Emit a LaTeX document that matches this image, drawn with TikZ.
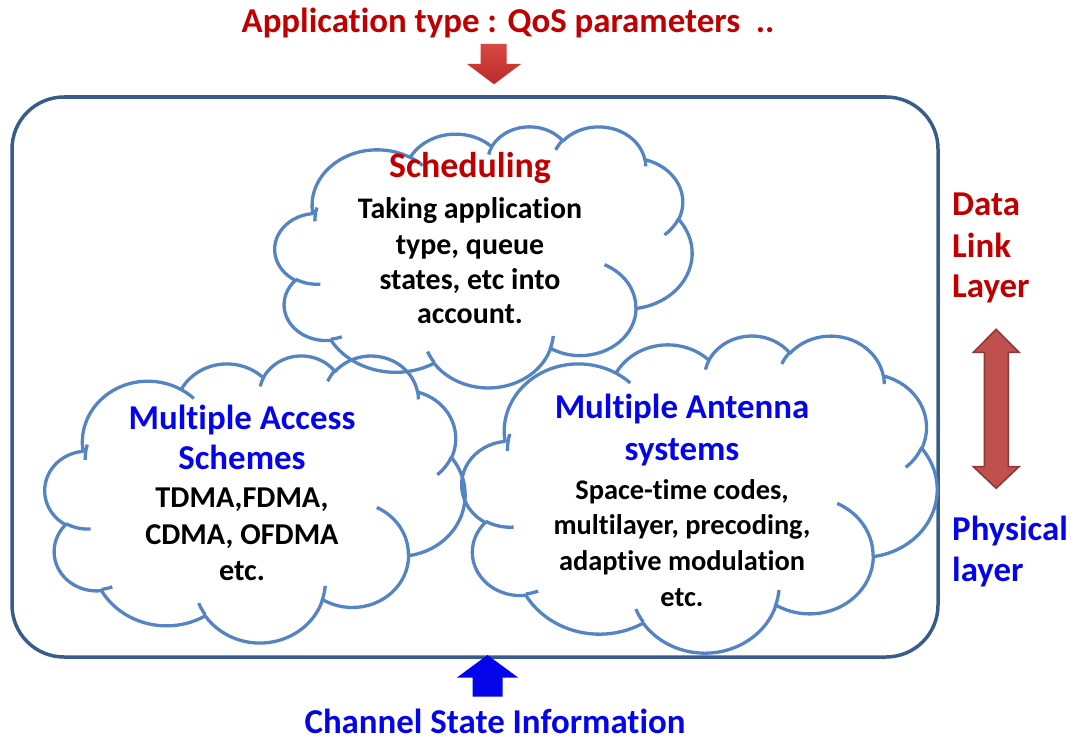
\documentclass[tikz,border=0pt]{standalone}
\usepackage{fontspec}
\setmainfont{Carlito}[Ligatures={NoCommon}]
\definecolor{dred}{RGB}{192,0,0}
\definecolor{tblue}{RGB}{5,5,235}
\definecolor{cloudc}{RGB}{84,132,194}
\definecolor{framec}{RGB}{56,93,138}
\definecolor{arrowred}{RGB}{192,80,77}
\definecolor{arrowredb}{RGB}{140,56,54}
\newcommand\ooconv[5]{%
  \pgfmathsetmacro\ooTa{atan2((#2)*sin(#4),(#3)*cos(#4))}%
  \pgfmathsetmacro\ooTb{atan2((#2)*sin((#4)+(#5)),(#3)*cos((#4)+(#5)))}%
  \pgfmathsetmacro\ooDd{\ooTb-\ooTa-360*round((\ooTb-\ooTa-(#5))/360)}%
  \expandafter\xdef\csname ooS#1\endcsname{\ooTa}%
  \expandafter\xdef\csname ooD#1\endcsname{\ooDd}%
}
% outer outline
\ooconv{A}{6.753}{9.190}{-190.48748}{123.78053}
\ooconv{B}{5.333}{7.267}{-144.10238}{89.94523}
\ooconv{C}{4.365}{5.945}{-145.80792}{99.72302}
\ooconv{D}{4.857}{6.595}{-130.98607}{117.24173}
\ooconv{E}{5.333}{7.273}{-78.70888}{109.02692}
\ooconv{F}{6.775}{9.220}{-46.26725}{130.26900}
\ooconv{G}{5.785}{7.867}{0.62502}{114.03333}
\ooconv{H}{6.752}{9.215}{22.45160}{115.17255}
\ooconv{I}{7.720}{10.543}{66.24263}{75.71102}
\ooconv{J}{4.360}{5.918}{-274.94208}{146.73557}
\ooconv{K}{4.345}{5.945}{-246.82850}{152.51885}
% inner arcs
\ooconv{a}{4.345}{5.945}{86.74200}{26.42950}
\ooconv{b}{4.360}{5.918}{73.61047}{11.44747}
\ooconv{c}{6.752}{9.215}{137.62415}{14.08110}
\ooconv{d}{6.752}{9.215}{6.45327}{15.99835}
\ooconv{e}{5.785}{7.867}{-70.29235}{70.91737}
\ooconv{f}{5.333}{7.273}{30.31803}{27.75150}
\ooconv{g}{4.857}{6.595}{-13.74433}{14.85890}
\ooconv{h}{4.857}{6.595}{-149.18145}{18.19537}
\ooconv{i}{4.365}{5.945}{-163.49427}{17.68635}
\ooconv{j}{6.753}{9.190}{-66.70695}{12.31935}
\ooconv{k}{6.753}{9.190}{180}{19.43045}
\newcommand\oocloudpath{%
 (3.900,14.370)
 arc[start angle=\ooSA, delta angle=\ooDA, x radius=6.753, y radius=9.190]
 arc[start angle=\ooSB, delta angle=\ooDB, x radius=5.333, y radius=7.267]
 arc[start angle=\ooSC, delta angle=\ooDC, x radius=4.365, y radius=5.945]
 arc[start angle=\ooSD, delta angle=\ooDD, x radius=4.857, y radius=6.595]
 arc[start angle=\ooSE, delta angle=\ooDE, x radius=5.333, y radius=7.273]
 arc[start angle=\ooSF, delta angle=\ooDF, x radius=6.775, y radius=9.220]
 arc[start angle=\ooSG, delta angle=\ooDG, x radius=5.785, y radius=7.867]
 arc[start angle=\ooSH, delta angle=\ooDH, x radius=6.752, y radius=9.215]
 arc[start angle=\ooSI, delta angle=\ooDI, x radius=7.720, y radius=10.543]
 arc[start angle=\ooSJ, delta angle=\ooDJ, x radius=4.360, y radius=5.918]
 arc[start angle=\ooSK, delta angle=\ooDK, x radius=4.345, y radius=5.945]
 -- cycle
 (4.693,26.177) arc[start angle=\ooSa, delta angle=\ooDa, x radius=4.345, y radius=5.945]
 (6.928,34.899) arc[start angle=\ooSb, delta angle=\ooDb, x radius=4.360, y radius=5.918]
 (16.478,39.090) arc[start angle=\ooSc, delta angle=\ooDc, x radius=6.752, y radius=9.215]
 (28.827,34.751) arc[start angle=\ooSd, delta angle=\ooDd, x radius=6.752, y radius=9.215]
 (34.129,22.954) arc[start angle=\ooSe, delta angle=\ooDe, x radius=5.785, y radius=7.867]
 (41.798,15.354) arc[start angle=\ooSf, delta angle=\ooDf, x radius=5.333, y radius=7.273]
 (38.324,5.426) arc[start angle=\ooSg, delta angle=\ooDg, x radius=4.857, y radius=6.595]
 (29.078,3.952) arc[start angle=\ooSh, delta angle=\ooDh, x radius=4.857, y radius=6.595]
 (22.141,4.720) arc[start angle=\ooSi, delta angle=\ooDi, x radius=4.365, y radius=5.945]
 (14.000,5.192) arc[start angle=\ooSj, delta angle=\ooDj, x radius=6.753, y radius=9.190]
 (4.127,15.789) arc[start angle=\ooSk, delta angle=\ooDk, x radius=6.753, y radius=9.190]
}
\tikzset{
  cloudline/.style={draw=cloudc, line width=3.3bp, line join=round},
  frame/.style={draw=framec, line width=3.5bp, rounded corners=52bp},
  txt/.style={inner sep=0pt, anchor=base, font=\bfseries\fontsize{#1}{#1}\selectfont},
  txt/.default=35,
  lbl/.style={inner sep=0pt, anchor=base west, font=\bfseries\fontsize{35}{35}\selectfont},
}
\begin{document}
\begin{tikzpicture}[x=1bp,y=-1bp]
\useasboundingbox (0,0) rectangle (1080,740);
% frame
\draw[frame] (12,97) rectangle (938,657);
% clouds
\begin{scope}[shift={(275,126)}, x=9.6528bp, y=-6.0417bp]
  \draw[cloudline] \oocloudpath;
\end{scope}
\begin{scope}[shift={(45,355)}, x=9.7222bp, y=-6.6435bp]
  \draw[cloudline] \oocloudpath;
\end{scope}
\begin{scope}[shift={(462,335)}, x=10.9954bp, y=-7.3380bp]
  \draw[cloudline] \oocloudpath;
\end{scope}
% top title and arrow
\node[txt, text=dred] (title) at (508,33) {Application type : QoS parameters\hspace{0.45em}..};
\coordinate (qtip) at (494,84.3);
\shade[top color={rgb,255:red,218;green,72;blue,66}, bottom color={rgb,255:red,184;green,44;blue,42}]
  (480.7,44) -- (506.7,44) -- (506.7,64) -- (521,64) -- (qtip) -- (467,64) -- (480.7,64) -- cycle;
% bottom label and arrow
\node[txt, text=tblue] (csi) at (495,733) {Channel State Information};
\coordinate (ctip) at (487.5,655);
\fill[tblue] (ctip) -- (518.3,677.7) -- (502.7,677.7) -- (502.7,696.7) -- (472.7,696.7) -- (472.7,677.7) -- (456.7,677.7) -- cycle;
% scheduling
\node[txt=36, text=dred] (sch) at (470,177) {Scheduling};
\node[txt=30] (sch1) at (470,218) {Taking application};
\node[txt=30] (sch2) at (470,254) {type, queue};
\node[txt=30] (sch3) at (470,289) {states, etc into};
\node[txt=30] (sch4) at (470,323) {account.};
% multiple access
\node[txt, text=tblue] (ma1) at (242,429) {Multiple Access};
\node[txt, text=tblue] (ma2) at (242,469) {Schemes};
\node[txt=30.4] (ma3) at (242,507) {TDMA,FDMA,};
\node[txt=30.4] (ma4) at (242,544) {CDMA, OFDMA};
\node[txt=30.4] (ma5) at (242,580) {etc.};
% multiple antenna
\node[txt, text=tblue] (mn1) at (682,418) {Multiple Antenna};
\node[txt, text=tblue] (mn2) at (682,460) {systems};
\node[txt=28.5] (mn3) at (682,499) {Space-time codes,};
\node[txt=28.5] (mn4) at (682,534) {multilayer, precoding,};
\node[txt=28.5] (mn5) at (682,570) {adaptive modulation};
\node[txt=28.5] (mn6) at (682,606) {etc.};
% right labels
\node[lbl, text=dred] (dl1) at (952,215) {Data};
\node[lbl, text=dred] (dl2) at (952,257) {Link};
\node[lbl, text=dred] (dl3) at (952,297) {Layer};
\node[lbl, text=tblue] (ph1) at (952,540) {Physical};
\node[lbl, text=tblue] (ph2) at (952,581) {layer};
% double arrow
\coordinate (dtop) at (996.2,329.3);
\coordinate (dbot) at (996.2,488.3);
\filldraw[fill=arrowred, draw=arrowredb, line width=1.5bp, line join=miter]
  (dtop) -- (1019,352.3) -- (1008.3,352.3) -- (1008.3,466.7) -- (1019,466.7) -- (dbot)
  -- (973.3,466.7) -- (984.3,466.7) -- (984.3,352.3) -- (973.3,352.3) -- cycle;
\end{tikzpicture}
\end{document}
